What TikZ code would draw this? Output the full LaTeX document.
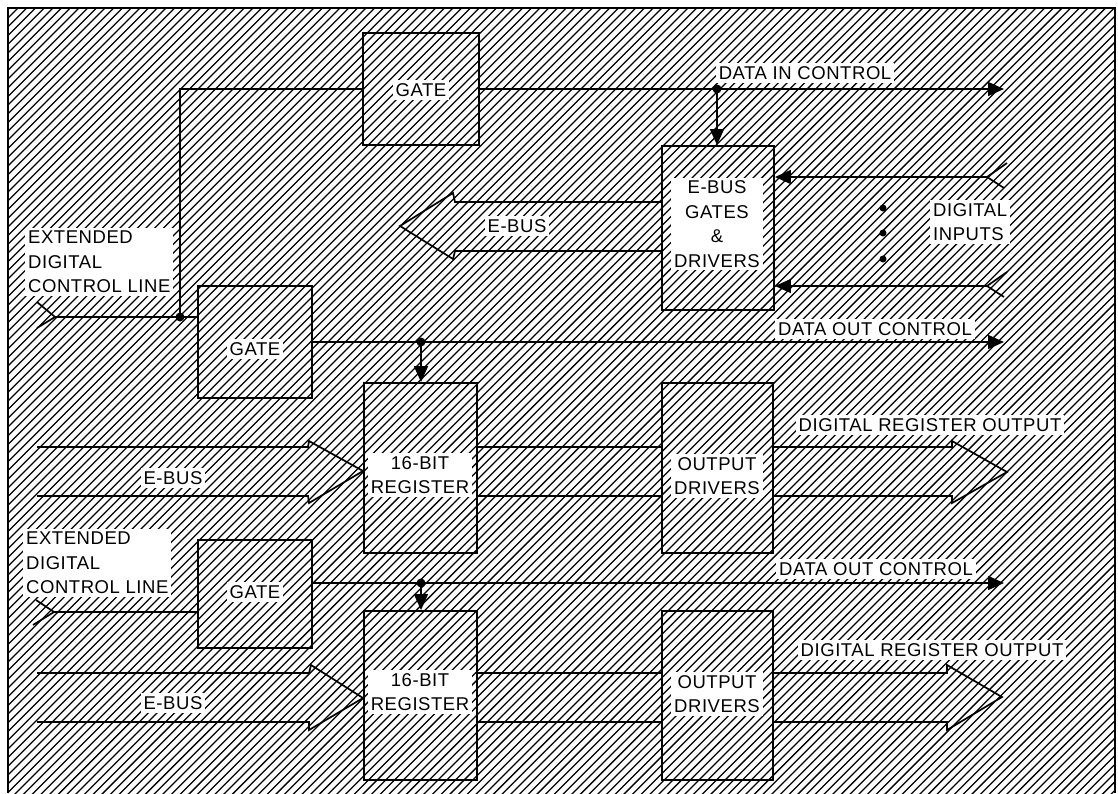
\documentclass[tikz,border=0pt]{standalone}
\usepackage{fontspec}
\usepackage{tikz}
\usetikzlibrary{arrows.meta}
\newfontfamily\lblfont{Liberation Sans}[LetterSpace=3]

\begin{document}
\begin{tikzpicture}[x=1pt, y=-1pt,
    blk/.style={draw, line width=1.9pt, inner sep=0pt},
    lbl/.style={fill=white, inner sep=3pt, align=center, font=\lblfont\fontsize{18.5}{24.5}\selectfont},
    lbll/.style={lbl, align=left},
    wire/.style={line width=1.7pt},
    arr/.style={wire, -{Triangle[length=16pt, width=14pt]}},
    jdot/.style={circle, fill, inner sep=0pt, minimum size=9pt},
    hatch/.style={line width=1.25pt}
  ]
  \useasboundingbox (0,0) rectangle (1118,793);

  \begin{scope}
    \clip (8,8) rectangle (1115,793);
    \foreach \c in {0,8.7,...,1920}
      \draw[hatch] (\c-800,800) -- (\c,0);
  \end{scope}
  \draw[line width=1.9pt] (8,793) -- (8,8) -- (1115,8) -- (1115,793);

  \node[blk, minimum width=116pt, minimum height=112pt] (gateA) at (421,89) {};
  \node[blk, minimum width=112pt, minimum height=164pt] (busgates) at (718,228) {};
  \node[blk, minimum width=114pt, minimum height=112pt] (gateB) at (255,342) {};
  \node[blk, minimum width=113pt, minimum height=170pt] (regA) at (420.5,468) {};
  \node[blk, minimum width=111pt, minimum height=170pt] (drvA) at (717.5,468) {};
  \node[blk, minimum width=114pt, minimum height=108pt] (gateC) at (255,594) {};
  \node[blk, minimum width=113pt, minimum height=169pt] (regB) at (420.5,695.5) {};
  \node[blk, minimum width=111pt, minimum height=169pt] (drvB) at (717.5,695.5) {};

  \coordinate (cinA) at (55,317);
  \coordinate (jA) at (180,317);
  \coordinate (dinEnd) at (1004,89);
  \coordinate (jB) at (717,89);
  \coordinate (inA) at (987,177);
  \coordinate (inB) at (987,286);
  \coordinate (doutA) at (1004,342);
  \coordinate (jC) at (421,342);
  \coordinate (cinB) at (54,612);
  \coordinate (doutB) at (1004,583);
  \coordinate (jD) at (421,583);
  \coordinate (ebT) at (455,202);
  \coordinate (ebB) at (455,251);
  \coordinate (ebTip) at (400,226);
  \coordinate (busA1) at (37,447);
  \coordinate (busA2) at (37,496);
  \coordinate (busB1) at (37,673);
  \coordinate (busB2) at (37,722);
  \coordinate (outA) at (1007,472);
  \coordinate (outB) at (1002,697);

  % control lines
  \draw[wire] (cinA) -- (gateB.west |- cinA);
  \draw[wire] (jA) |- (gateA.west);
  \draw[wire] (cinA) ++(-18,-15) -- (cinA) -- ++(-18,11);
  \node[jdot] (dotA) at (jA) {};
  \draw[wire] (cinB) -- (gateC.west |- cinB);
  \draw[wire] (cinB) ++(-18,-12) -- (cinB) -- ++(-21,13);

  % data in control
  \draw[arr] (gateA.east) -- (dinEnd);
  \node[jdot] (dotB) at (jB) {};
  \draw[arr] (jB) -- (jB |- busgates.north);

  % digital inputs
  \draw[wire, {Triangle[length=16pt, width=14pt]}-] (busgates.east |- inA) -- (inA);
  \draw[wire, {Triangle[length=16pt, width=14pt]}-] (busgates.east |- inB) -- (inB);
  \draw[wire] (inA) ++(20,-14) -- (inA) -- ++(17,11);
  \draw[wire] (inB) ++(20,-14) -- (inB) -- ++(17,11);
  \node[jdot, minimum size=7pt] (vd1) at (883,208) {};
  \node[jdot, minimum size=7pt] (vd2) at (883,233) {};
  \node[jdot, minimum size=7pt] (vd3) at (883,259) {};

  % e-bus out of the gates
  \draw[wire] (busgates.west |- ebT) -- (ebT) -- (453,193) -- (ebTip)
    -- (453,259) -- (ebB) -- (busgates.west |- ebB);

  % upper register
  \draw[arr] (gateB.east) -- (doutA);
  \node[jdot] (dotC) at (jC) {};
  \draw[arr] (jC) -- (jC |- regA.north);
  \draw[wire] (busA1) -- (308,447) -- (309,441) -- ([yshift=-3pt]regA.west)
    -- (309,503) -- (308,496) -- (busA2);
  \draw[wire] (regA.east |- busA1) -- (drvA.west |- busA1);
  \draw[wire] (regA.east |- busA2) -- (drvA.west |- busA2);
  \draw[wire] (drvA.east |- busA1) -- (952,447) -- (952,441) -- (outA)
    -- (952,503) -- (952,496) -- (drvA.east |- busA2);

  % lower register
  \draw[arr] (gateC.east |- doutB) -- (doutB);
  \node[jdot] (dotD) at (jD) {};
  \draw[arr] (jD) -- (jD |- regB.north);
  \draw[wire] (busB1) -- (309,673) -- (311,665) -- ([yshift=-2.5pt]regB.west)
    -- (309,730) -- (309,722) -- (busB2);
  \draw[wire] (regB.east |- busB1) -- (drvB.west |- busB1);
  \draw[wire] (regB.east |- busB2) -- (drvB.west |- busB2);
  \draw[wire] (drvB.east |- busB1) -- (947,673) -- (947,665) -- (outB)
    -- (947,730) -- (947,722) -- (drvB.east |- busB2);

  \node[lbl] (gateA-t) at (421,90) {GATE};
  \node[lbl] (busgates-t) at (717,224) {E-BUS\\GATES\\\&\\DRIVERS};
  \node[lbl] (gateB-t) at (255,349) {GATE};
  \node[lbl] (regA-t) at (420,475) {16-BIT\\REGISTER};
  \node[lbl] (drvA-t) at (717,476) {OUTPUT\\DRIVERS};
  \node[lbl] (gateC-t) at (255,592) {GATE};
  \node[lbl] (regB-t) at (420,692) {16-BIT\\REGISTER};
  \node[lbl] (drvB-t) at (717,694) {OUTPUT\\DRIVERS};
  \node[lbl] (dinLbl) at (805,73) {DATA IN CONTROL};
  \node[lbl] (doutALbl) at (875,329) {DATA OUT CONTROL};
  \node[lbl] (doutBLbl) at (876,569) {DATA OUT CONTROL};
  \node[lbl] (outALbl) at (930,425) {DIGITAL REGISTER OUTPUT};
  \node[lbl] (outBLbl) at (932,650) {DIGITAL REGISTER OUTPUT};
  \node[lbl] (ebusOut) at (517,226) {E-BUS};
  \node[lbl] (ebusA) at (173,478) {E-BUS};
  \node[lbl] (ebusB) at (173,703) {E-BUS};
  \node[lbll, anchor=west] (ctlA) at (25,262) {EXTENDED\\DIGITAL\\CONTROL LINE};
  \node[lbll, anchor=west] (ctlB) at (23,563) {EXTENDED\\DIGITAL\\CONTROL LINE};
  \node[lbll, anchor=west] (digIn) at (930,222) {DIGITAL\\INPUTS};
\end{tikzpicture}
\end{document}
